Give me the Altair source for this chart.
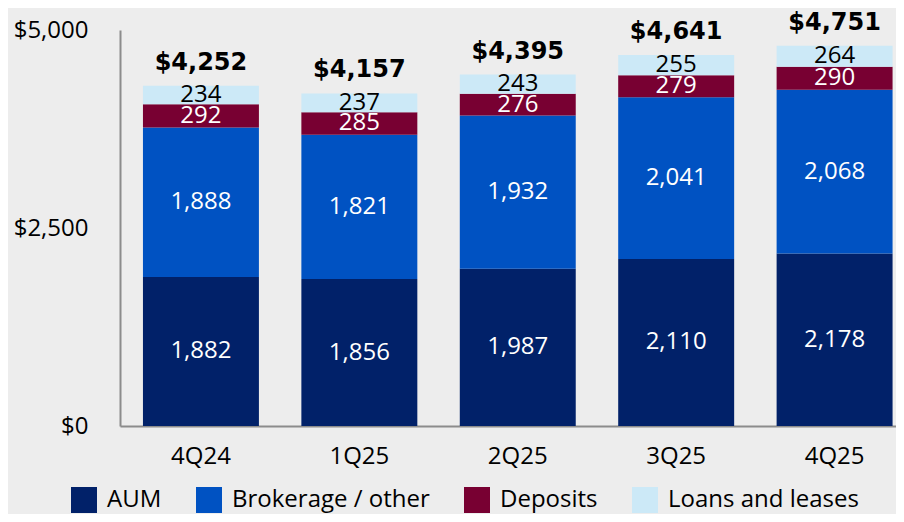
import altair as alt
import pandas as pd

quarters = ["4Q24", "1Q25", "2Q25", "3Q25", "4Q25"]
series = ["AUM", "Brokerage / other", "Deposits", "Loans and leases"]
aum = [1882, 1856, 1987, 2110, 2178]
brokerage = [1888, 1821, 1932, 2041, 2068]
deposits = [292, 285, 276, 279, 290]
loans = [234, 237, 243, 255, 264]
totals = [4252, 4157, 4395, 4641, 4751]
colors = ["#012169", "#0052C2", "#780032", "#CCE9F7"]
y_ticks = [0, 2500, 5000]

rows = []
for si, (s, vals) in enumerate(zip(series, [aum, brokerage, deposits, loans])):
    for q, v in zip(quarters, vals):
        rows.append({"quarter": q, "series": s, "value": v, "order": si})
df = pd.DataFrame(rows)
tot_df = pd.DataFrame({"quarter": quarters, "total": totals})

FONT = "Open Sans"

base = alt.Chart(df).transform_stack(
    stack="value", groupby=["quarter"], as_=["y0", "y1"],
    sort=[alt.SortField("order", order="ascending")]
).transform_calculate(
    mid="(datum.y0 + datum.y1) / 2",
    lbl="format(datum.value, ',')"
)

xenc = alt.X("quarter:N", sort=quarters,
             scale=alt.Scale(paddingInner=0.268, paddingOuter=0.0833, align=0.87),
             axis=alt.Axis(title=None, labelAngle=0, ticks=False, domainColor="#8c8c8c",
                           domainWidth=2, labelFont=FONT, labelFontSize=24,
                           labelColor="#000000", labelPadding=18))
yscale = alt.Scale(domain=[0, 5000], nice=False, zero=True)

bars = base.mark_bar().encode(
    x=xenc,
    y=alt.Y("y0:Q", scale=yscale,
            axis=alt.Axis(title=None, values=y_ticks, grid=False, ticks=False, tickSize=0,
                          domainColor="#8c8c8c", domainWidth=2, labelFont=FONT,
                          labelFontSize=24, labelColor="#000000", labelPadding=32,
                          labelExpr="'$' + format(datum.value, ',')")),
    y2="y1:Q",
    color=alt.Color("series:N", sort=series,
                    scale=alt.Scale(domain=series, range=colors),
                    legend=alt.Legend(title=None, orient="none", direction="horizontal",
                                      legendX=-49, legendY=457, symbolType="square",
                                      symbolSize=676, symbolStrokeWidth=0,
                                      labelFont=FONT, labelFontSize=24, labelColor="#000000",
                                      labelOffset=10, columnPadding=34, padding=0,
                                      labelLimit=400)),
    order=alt.Order("order:Q")
)

txt_white = base.transform_filter(
    alt.FieldOneOfPredicate(field="series", oneOf=series[:3])
).mark_text(font=FONT, fontSize=24, color="#ffffff", baseline="middle").encode(
    x=alt.X("quarter:N", sort=quarters), y=alt.Y("mid:Q"), text="lbl:N"
)
txt_black = base.transform_filter(
    alt.FieldEqualPredicate(field="series", equal=series[3])
).mark_text(font=FONT, fontSize=24, color="#000000", baseline="middle").encode(
    x=alt.X("quarter:N", sort=quarters), y=alt.Y("mid:Q"), text="lbl:N"
)

tot = alt.Chart(df).transform_aggregate(
    top="sum(value)", groupby=["quarter"]
).transform_lookup(
    lookup="quarter", from_=alt.LookupData(tot_df, "quarter", ["total"])
).transform_calculate(
    tl="'$' + format(datum.total, ',')"
).mark_text(font="DejaVu Sans", fontWeight="bold", fontSize=24, color="#000000",
            baseline="middle", dy=-23).encode(
    x=alt.X("quarter:N", sort=quarters), y=alt.Y("top:Q"), text="tl:N"
)

chart = alt.layer(bars, txt_white, txt_black, tot).properties(
    width=776, height=396,
    autosize=alt.AutoSizeParams(type="none"),
    padding={"left": 112, "top": 22, "right": 0, "bottom": 88},
    background="#ededed"
).configure_view(stroke=None)

chart.save("out.html", embed_options={"renderer": "svg", "actions": False})
